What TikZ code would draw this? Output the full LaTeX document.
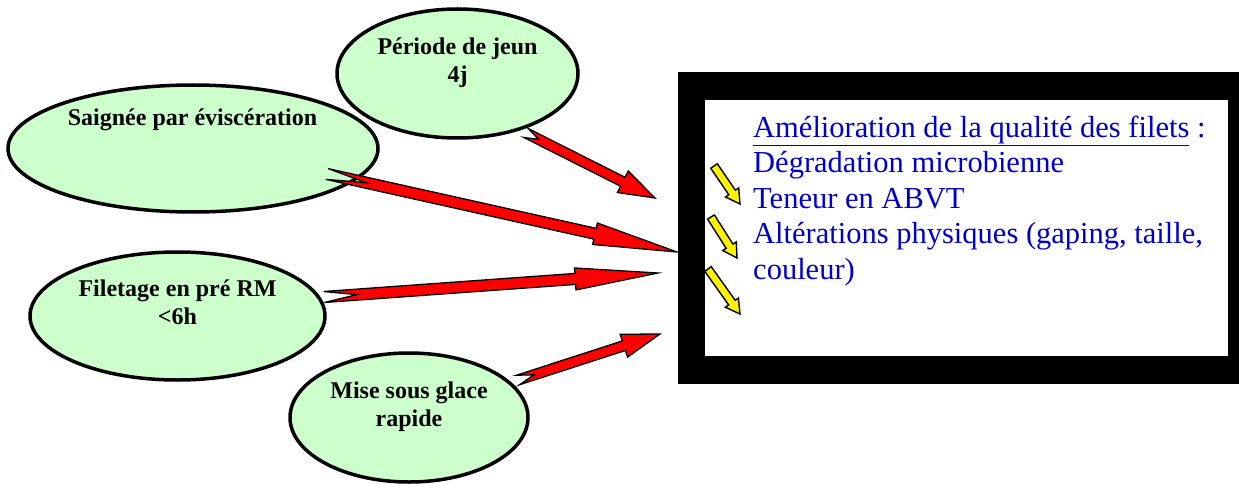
\documentclass[tikz,border=0pt]{standalone}
\usepackage{fontspec}
\setmainfont{Liberation Serif}
\usetikzlibrary{shapes.geometric,calc}
\definecolor{ellfill}{HTML}{CCFFCC}
\definecolor{txtblue}{HTML}{0000CC}
% #1 tail, #2 tip, #3 shaft half width, #4 head half width, #5 head length, #6 notch depth, #7 style
\newcommand{\notcharrow}[7]{%
  \coordinate (#1-hb) at ($(#2)!#5!(#1)$);
  \coordinate (#1-nt) at ($(#1)!#6!(#2)$);
  \filldraw[#7] ($(#1)!#3!90:(#2)$) -- ($(#1-hb)!#3!90:(#2)$) -- ($(#1-hb)!#4!90:(#2)$) -- (#2)
    -- ($(#1-hb)!#4!-90:(#2)$) -- ($(#1-hb)!#3!-90:(#2)$) -- ($(#1)!#3!-90:(#2)$) -- (#1-nt) -- cycle;
}
\begin{document}
\begin{tikzpicture}[x=1pt,y=-1pt,
  bubble/.style={ellipse, draw=black, line width=3.5pt, fill=ellfill, inner sep=0pt},
  bubbletext/.style={font=\fontsize{24}{28}\selectfont\bfseries, align=center, anchor=base, inner sep=0pt},
  redarrow/.style={fill=red, draw=black, line width=1.3pt, line join=miter},
  yelarrow/.style={fill=yellow, draw=black, line width=1.4pt, line join=miter},
]
\useasboundingbox[fill=white] (0,0) rectangle (1239,484);

% bubbles
\node[bubble, minimum width=241pt, minimum height=129pt] (jeun) at (457.5,73.5) {};
\node[bubble, minimum width=370pt, minimum height=127pt] (saignee) at (193,148.5) {};
\node[bubble, minimum width=295pt, minimum height=128pt] (filetage) at (177.5,316) {};
\node[bubble, minimum width=238pt, minimum height=129pt] (glace) at (409,417.5) {};

% (base anchor = baseline of the last line)
\node[bubbletext] (jeun-t) at (457.5,83) {Période de jeun\\4j};
\node[bubbletext] (saignee-t) at (192.5,125) {Saignée par éviscération};
\node[bubbletext] (filetage-t) at (177.5,324) {Filetage en pré RM\\<6h};
\node[bubbletext] (glace-t) at (409,426) {Mise sous glace\\rapide};

% framed box
\node[fill=black, minimum width=561pt, minimum height=312pt, inner sep=0pt, anchor=north west] (frame) at (678,72) {};
\node[fill=white, minimum width=523pt, minimum height=256pt, inner sep=0pt, anchor=north west] (panel) at (705,100) {};
\node[font=\fontsize{30.5}{35.5}\selectfont, text=txtblue, align=left, anchor=base west, inner sep=0pt] (qual) at (753,279)
  {\underline{Amélioration de la qualité des filets} :\\Dégradation microbienne\\Teneur en ABVT\\Altérations physiques (gaping, taille,\\couleur)};

% red notched arrows
\coordinate (tA) at (526,133); \coordinate (hA) at (655,198);
\coordinate (tB) at (327,174); \coordinate (hB) at (677,252);
\coordinate (tC) at (324,297); \coordinate (hC) at (658,273);
\coordinate (tD) at (518,380); \coordinate (hD) at (660,334);
\notcharrow{tA}{hA}{5pt}{12pt}{36pt}{14pt}{redarrow}
\notcharrow{tB}{hB}{5.5pt}{11pt}{84pt}{40pt}{redarrow}
\notcharrow{tC}{hC}{5.5pt}{11pt}{83pt}{33pt}{redarrow}
\notcharrow{tD}{hD}{5pt}{12pt}{38pt}{17pt}{redarrow}

% yellow arrows
\coordinate (y1t) at (714,166); \coordinate (y1h) at (740,204);
\coordinate (y2t) at (711,217); \coordinate (y2h) at (737,258);
\coordinate (y3t) at (708,269); \coordinate (y3h) at (740,314);
\notcharrow{y1t}{y1h}{4pt}{8pt}{14pt}{0pt}{yelarrow}
\notcharrow{y2t}{y2h}{4pt}{8pt}{14pt}{0pt}{yelarrow}
\notcharrow{y3t}{y3h}{4pt}{8pt}{14pt}{0pt}{yelarrow}
\end{tikzpicture}
\end{document}
